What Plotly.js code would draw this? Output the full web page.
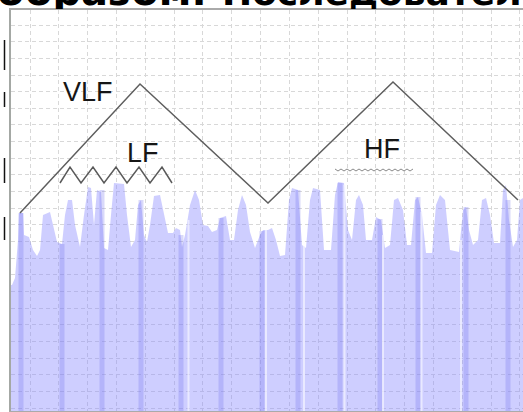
<!DOCTYPE html>
<html><head><meta charset="utf-8">
<script src="https://cdn.plot.ly/plotly-3.0.1.min.js"></script>
<style>html,body{margin:0;padding:0;background:#fff;}#c{width:523px;height:412px;}</style>
</head><body><div id="c"></div>
<script>
// Spectrum profile (x position, power height)
const specX = [11,12,15,18,19,23,24,29,33,37,40,43,50,53,57,62,65,68,72,75,80,84,88,91,94,97,101,104,108,111,114,124,127,131,135,138,141,144,147,150,154,160,164,168,173,176,180,182,185,190,195,199,203,208,212,217,220,226,230,234,238,242,246,250,255,260,263,268,272,276,280,285,289,292,298,302,306,310,313,320,324,331,335,338,344,348,352,356,359,363,366,372,376,381,385,390,394,398,403,407,411,415,418,422,426,432,436,440,445,450,459,463,466,469,473,478,482,486,490,494,500,503,506,509,513,517,520,523];
const specH = [126,126,133,171,198,198,176,174,161,155,161,196,199,186,169,167,196,211,211,186,164,196,224,223,186,221,219,163,161,196,228,227,196,164,171,206,211,176,169,186,215,216,196,178,178,183,181,164,176,206,221,211,186,185,179,181,193,195,171,171,201,216,206,179,163,176,181,181,183,171,155,156,211,223,221,166,163,211,223,221,161,161,216,229,228,181,171,211,216,206,171,171,194,191,163,166,211,213,201,166,166,211,214,196,158,158,206,216,211,161,159,201,204,181,166,171,211,213,196,168,168,221,226,191,164,171,211,213];
// darker bands inside the spectrum
const bandX = [21,62,102,141,181,221,262,298,340,380,418,466,508];
const bandH = [198,167,221,211,176,193,180,221,228,192,214,204,211];
// thin light lines inside the spectrum
const gapX = [188.5,266,304,344.5,383,421.5,461];
const gapH = [191,181,165,226,176,199,171];
// VLF envelope
const vlfX = [20,140,268,393,518];
const vlfY = [198,327,208,329,211];
// LF zigzag
const lfX = [60,70,81,93,104,116,127,139,150,162,172];
const lfY = [228,244,228,244,228,244,228,244,228,244,228];
// HF zigzag
const hfX = [335,338,341,344,347,350,353,356,359,362,365,368,371,374,377,380,383,386,389,392,395,398,401,404,407,410,413];
const hfY = [242,240,242,240,242,240,242,240,242,240,242,240,242,240,242,240,242,240,242,240,242,240,242,240,242,240,242];
// labels
const labels = ["VLF","LF","HF"];
const labelX = [88,143,382];
const labelY = [319,258,262];
// left marks
const markTop = [371,319,253,194];
const markBot = [341,304,228,171];
// heading words (cut by the top edge)
const headWords = ["образом.", "Последовательность"];
const headX = [-3, 222];
const headSize = [40, 36];

function segs(xs, hs){
  const X=[],Y=[];
  xs.forEach((x,i)=>{X.push(x,x,null);Y.push(0,hs[i],null);});
  return {X,Y};
}
const b = segs(bandX, bandH), g = segs(gapX, gapH);

const traces = [
  {x:specX,y:specH,type:'scatter',mode:'lines',fill:'tozeroy',line:{width:0,color:'rgba(0,0,0,0)'},fillcolor:'rgba(135,135,255,0.41)',hoverinfo:'skip'},
  {x:b.X,y:b.Y,type:'scatter',mode:'lines',line:{width:5,color:'rgba(110,110,235,0.26)'},hoverinfo:'skip'},
  {x:g.X,y:g.Y,type:'scatter',mode:'lines',line:{width:2,color:'rgba(245,245,255,0.7)'},hoverinfo:'skip'},
  {x:vlfX,y:vlfY,type:'scatter',mode:'lines',line:{width:1.5,color:'#5e5e5e'},hoverinfo:'skip'},
  {x:lfX,y:lfY,type:'scatter',mode:'lines',line:{width:1.5,color:'#5a5a5a'},hoverinfo:'skip'}, 
  {x:hfX,y:hfY,type:'scatter',mode:'lines',line:{width:1,color:'#8a8a8a'},hoverinfo:'skip'}
];
headWords.forEach((w,i)=>{
  traces.push({x:[headX[i]],y:[9-9+0.35*headSize[i]],xaxis:'x2',yaxis:'y2',type:'scatter',mode:'text',text:[w],textposition:'middle right',
   textfont:{family:'DejaVu Sans',size:headSize[i],color:'#000',weight:'bold'},cliponaxis:true,hoverinfo:'skip'});
});

const shapes = markTop.map((t,i)=>({type:'line',xref:'paper',yref:'y',x0:4.5/523,x1:4.5/523,y0:markBot[i],y1:t,line:{color:'#111',width:1.5}}));

const layout = {
  width:523,height:412,margin:{l:0,r:0,t:0,b:0},paper_bgcolor:'#fff',plot_bgcolor:'#fff',showlegend:false,
  xaxis:{domain:[11/523,1],range:[11,523],showgrid:true,gridcolor:'#d8d8d8',griddash:'4px,3px',gridwidth:1,
    tick0:30,dtick:28.82,showticklabels:false,ticks:'',zeroline:false,showline:true,mirror:true,linecolor:'#aaaaaa',linewidth:2},
  yaxis:{domain:[1/412,402/412],range:[0,401],showgrid:true,gridcolor:'#d8d8d8',griddash:'4px,3px',gridwidth:1,
    tick0:3,dtick:16.65,showticklabels:false,ticks:'',zeroline:false,showline:true,linecolor:'#a4a8a4',linewidth:2},
  xaxis2:{domain:[0,1],range:[0,523],anchor:'y2',visible:false,showgrid:false},
  yaxis2:{domain:[403/412,1],range:[0,9],anchor:'x2',visible:false,showgrid:false},
  annotations: labels.map((t,i)=>({x:labelX[i],y:labelY[i],xref:'x',yref:'y',text:t,showarrow:false,
    font:{family:'Liberation Sans, Arial',size:27,color:'#161616'},xanchor:'center',yanchor:'middle'})),
  shapes:shapes
};
Plotly.newPlot('c',traces,layout,{staticPlot:true,displayModeBar:false});
</script></body></html>
